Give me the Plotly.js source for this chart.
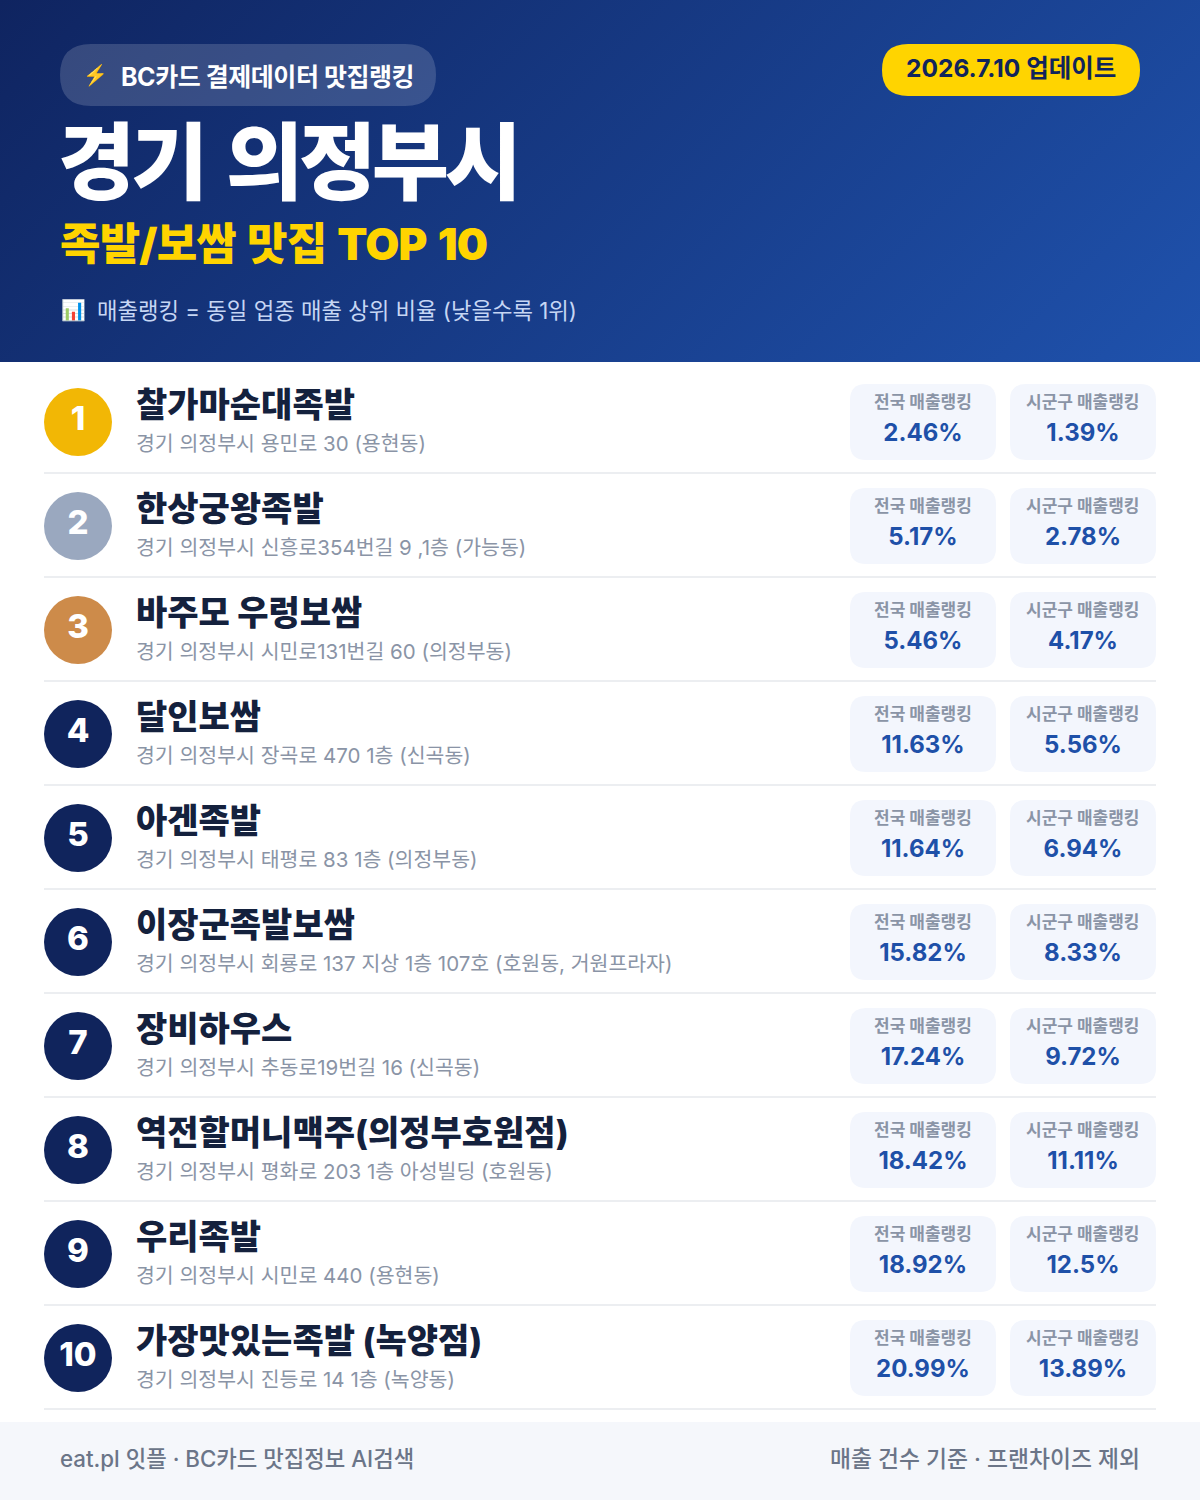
<!DOCTYPE html>
<html>
<head>
<meta charset="utf-8">
<script src="https://cdn.plot.ly/plotly-3.0.1.min.js"></script>
<style>
  html, body { margin: 0; padding: 0; background: #fff; }
  #wrap { position: relative; width: 1200px; height: 1500px; overflow: hidden; }
  #head { position: absolute; left: 0; top: 0; width: 1200px; height: 362px;
    background: linear-gradient(135deg, #0f2460 0%, #1f52ad 100%); }
  #chart { position: absolute; left: 0; top: 0; width: 1200px; height: 1500px; }
</style>
</head>
<body>
<div id="wrap">
  <div id="head"></div>
  <div id="chart"></div>
</div>
<script>
const ranks = ["1", "2", "3", "4", "5", "6", "7", "8", "9", "10"];
const names = ["찰가마순대족발", "한상궁왕족발", "바주모 우렁보쌈", "달인보쌈", "아겐족발", "이장군족발보쌈", "장비하우스", "역전할머니맥주(의정부호원점)", "우리족발", "가장맛있는족발 (녹양점)"];
const addresses = [
  "경기 의정부시 용민로 30 (용현동)",
  "경기 의정부시 신흥로354번길 9 ,1층 (가능동)",
  "경기 의정부시 시민로131번길 60 (의정부동)",
  "경기 의정부시 장곡로 470 1층 (신곡동)",
  "경기 의정부시 태평로 83 1층 (의정부동)",
  "경기 의정부시 회룡로 137 지상 1층 107호 (호원동, 거원프라자)",
  "경기 의정부시 추동로19번길 16 (신곡동)",
  "경기 의정부시 평화로 203 1층 아성빌딩 (호원동)",
  "경기 의정부시 시민로 440 (용현동)",
  "경기 의정부시 진등로 14 1층 (녹양동)"
];
const national = [2.46, 5.17, 5.46, 11.63, 11.64, 15.82, 17.24, 18.42, 18.92, 20.99];
const district = [1.39, 2.78, 4.17, 5.56, 6.94, 8.33, 9.72, 11.11, 12.5, 13.89];

const FONT = 'Inter, "Noto Sans CJK KR", sans-serif';
const rowY = (i) => 362 + 104 * i;
const rankColor = (i) => (i === 0 ? "#f2b705" : i === 1 ? "#9aa8bf" : i === 2 ? "#cd8b4a" : "#10245c");

// rounded rect path in axis units
const pill = (x0, y0, x1, y1, r) =>
  `M${x0 + r},${y0} H${x1 - r} Q${x1},${y0} ${x1},${y0 + r} V${y1 - r} Q${x1},${y1} ${x1 - r},${y1} H${x0 + r} Q${x0},${y1} ${x0},${y1 - r} V${y0 + r} Q${x0},${y0} ${x0 + r},${y0} Z`;
const box = (path, color) => ({ type: "path", path, fillcolor: color, line: { width: 0 }, layer: "below" });

const shapes = [
  box(pill(60, 44, 436, 106, 31), "rgba(255,255,255,0.16)"),
  box(pill(882, 44, 1140, 96, 26), "#ffd400"),
  { type: "rect", x0: 0, x1: 1200, y0: 1422, y1: 1500, fillcolor: "#f5f7fb", line: { width: 0 }, layer: "below" },
];
ranks.forEach((_, i) => {
  const t = rowY(i);
  shapes.push(box(pill(850, t + 22, 996, t + 98, 16), "#f3f6fd"));
  shapes.push(box(pill(1010, t + 22, 1156, t + 98, 16), "#f3f6fd"));
  shapes.push({ type: "rect", x0: 44, x1: 1156, y0: t + 110, y1: t + 112, fillcolor: "#eceef1", line: { width: 0 }, layer: "below" });
});

const note = (x, y, text, size, color, weight, anchor) => ({
  x, y, text, xref: "x", yref: "y", showarrow: false, borderpad: 0,
  xanchor: anchor || "left", yanchor: "middle",
  font: { family: FONT, size, color, weight: weight || 400 },
});
const tight = (text, px, word) => `<span style="letter-spacing:${px}px;word-spacing:${word || 0}px">${text}</span>`;

const annotations = [
  note(82, 75, "⚡", 20, "#ffc83d"),
  note(120, 77, tight("BC카드 결제데이터 맛집랭킹", -0.45), 25, "#ffffff", 700),
  note(1011, 68, "2026.7.10 업데이트", 24.5, "#10245c", 700, "center"),
  note(57, 162, tight("경기 의정부시", -4.4, 10), 84, "#ffffff", 900),
  note(59, 244, tight("족발/보쌈 맛집 TOP 10", -0.8, 3), 44, "#ffd400", 900),
  note(60, 310, "📊", 20, "#ffffff"),
  note(96, 310, "매출랭킹 = 동일 업종 매출 상위 비율 (낮을수록 1위)", 22.3, "#c6d6f4", 400),
  note(59, 1458, "eat.pl 잇플 · BC카드 맛집정보 AI검색", 22.3, "#6b7588", 500),
  note(1141, 1458, "매출 건수 기준 · 프랜차이즈 제외", 22.8, "#6b7588", 500, "right"),
];
ranks.forEach((_, i) => {
  const t = rowY(i);
  annotations.push(note(135, t + 42, names[i], 34, "#14213d", 800));
  annotations.push(note(135, t + 81, addresses[i], 20.5, "#8a94a6", 400));
  annotations.push(note(923, t + 40, "전국 매출랭킹", 17, "#8a94a6", 700, "center"));
  annotations.push(note(1083, t + 40, "시군구 매출랭킹", 17, "#8a94a6", 700, "center"));
});

const traces = [
  {
    x: ranks.map(() => 78),
    y: ranks.map((_, i) => rowY(i) + 60),
    type: "scatter",
    mode: "markers",
    marker: { size: 68, color: ranks.map((_, i) => rankColor(i)), line: { width: 0 } },
    hoverinfo: "skip",
  },
  {
    x: ranks.map(() => 78),
    y: ranks.map((_, i) => rowY(i) + 60),
    type: "scatter",
    mode: "text",
    text: ranks,
    textposition: "middle center",
    textfont: { family: FONT, size: 33, color: "#ffffff", weight: 800 },
    hoverinfo: "skip",
  },
  {
    x: national.map(() => 923),
    y: national.map((_, i) => rowY(i) + 73),
    type: "scatter",
    mode: "text",
    text: national.map((v) => v + "%"),
    textposition: "middle center",
    textfont: { family: FONT, size: 24, color: "#1e50a8", weight: 700 },
    hoverinfo: "skip",
  },
  {
    x: district.map(() => 1083),
    y: district.map((_, i) => rowY(i) + 73),
    type: "scatter",
    mode: "text",
    text: district.map((v) => v + "%"),
    textposition: "middle center",
    textfont: { family: FONT, size: 24, color: "#1e50a8", weight: 700 },
    hoverinfo: "skip",
  },
];

const layout = {
  width: 1200,
  height: 1500,
  margin: { t: 0, b: 0, l: 0, r: 0 },
  paper_bgcolor: "rgba(0,0,0,0)",
  plot_bgcolor: "rgba(0,0,0,0)",
  showlegend: false,
  xaxis: { range: [0, 1200], visible: false, fixedrange: true },
  yaxis: { range: [1500, 0], visible: false, fixedrange: true },
  shapes,
  annotations,
};

Plotly.newPlot("chart", traces, layout, { displayModeBar: false, staticPlot: true });
</script>
</body>
</html>
